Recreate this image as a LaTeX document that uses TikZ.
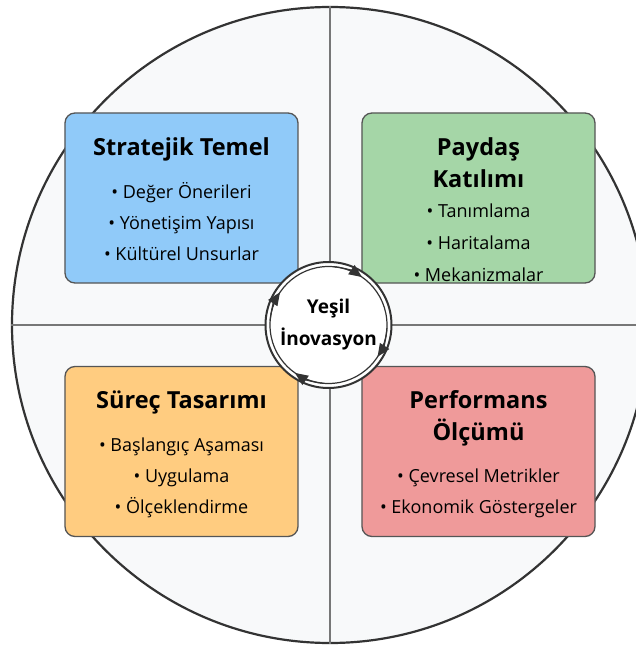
\documentclass[tikz,border=0pt]{standalone}
\usepackage{fontspec}
\setmainfont{Open Sans}
\usepackage{tikz}
\usetikzlibrary{positioning, arrows.meta, calc}
\definecolor{ringgray}{HTML}{333333}
\definecolor{panelbg}{HTML}{F8F9FA}
\definecolor{splitgray}{HTML}{777777}
\definecolor{boxline}{HTML}{555555}
\definecolor{stratblue}{HTML}{90CAF9}
\definecolor{paygreen}{HTML}{A5D6A7}
\definecolor{surecorange}{HTML}{FFCC80}
\definecolor{perfred}{HTML}{EF9A9A}

\tikzset{
  quadbox/.style={draw=boxline, line width=1.3pt, rounded corners=10pt,
    minimum width=233pt, minimum height=170pt, inner sep=0pt},
  boxtitle/.style={font=\fontsize{23.5}{28}\selectfont\bfseries, anchor=base, inner sep=0pt},
  boxlist/.style={font=\fontsize{18}{22}\selectfont, anchor=base, inner sep=0pt},
  ringarrow/.style={draw=ringgray, line width=1.2pt,
    -{Triangle[length=13pt, width=11pt, fill=ringgray]}}
}

\begin{document}
\begin{tikzpicture}[x=1pt, y=1pt]
  \useasboundingbox (-330,-323) rectangle (306,325);
  % outer disc and quadrants
  \node[circle, fill=panelbg, draw=ringgray, line width=2.2pt,
        minimum size=636pt, inner sep=0pt] (disc) at (0,0) {};
  \draw[splitgray, line width=1.3pt] (disc.north) -- (disc.south);
  \draw[splitgray, line width=1.3pt] (disc.west) -- (disc.east);

  % the four blocks
  \node[quadbox, fill=stratblue] (strat) at (-148.5,127) {};
  \node[quadbox, fill=paygreen] (payd) at (148.5,127) {};
  \node[quadbox, fill=surecorange] (surec) at (-148.5,-126.5) {};
  \node[quadbox, fill=perfred] (perf) at (148.5,-126.5) {};

  \node[boxtitle] (strat-t) at ([yshift=-43pt]strat.north) {Stratejik Temel};
  \foreach \txt/\dy [count=\i] in {Değer Önerileri/86, Yönetişim Yapısı/117, Kültürel Unsurlar/148}
    \node[boxlist] (strat-\i) at ([yshift=-\dy pt]strat.north) {• \txt};

  \node[boxtitle] (payd-t1) at ([yshift=-43pt]payd.north) {Paydaş};
  \node[boxtitle] (payd-t2) at ([yshift=-75pt]payd.north) {Katılımı};
  \begin{scope}
    \clip (payd.south west) rectangle (payd.north east);
    \foreach \txt/\dy [count=\i] in {Tanımlama/105, Haritalama/137, Mekanizmalar/169}
      \node[boxlist] (payd-\i) at ([yshift=-\dy pt]payd.north) {• \txt};
  \end{scope}

  \node[boxtitle] (surec-t) at ([yshift=-43pt]surec.north) {Süreç Tasarımı};
  \foreach \txt/\dy [count=\i] in {Başlangıç Aşaması/86, Uygulama/117, Ölçeklendirme/148}
    \node[boxlist] (surec-\i) at ([yshift=-\dy pt]surec.north) {• \txt};

  \node[boxtitle] (perf-t1) at ([yshift=-43pt]perf.north) {Performans};
  \node[boxtitle] (perf-t2) at ([yshift=-75pt]perf.north) {Ölçümü};
  \foreach \txt/\dy [count=\i] in {Çevresel Metrikler/117, Ekonomik Göstergeler/148}
    \node[boxlist] (perf-\i) at ([yshift=-\dy pt]perf.north) {• \txt};

  % centre ring
  \node[circle, fill=white, draw=ringgray, line width=2pt, minimum size=126pt,
        inner sep=0pt, font=\fontsize{19}{32}\selectfont\bfseries, align=center]
        (core) at (-1.5,0) {Yeşil\\İnovasyon};
  \draw[ringgray, line width=1.2pt] (core.center) circle[radius=58.5pt];
  \foreach \a in {55,-33,-125,146}
    \draw[ringarrow] ([shift={(\a+30:58.5pt)}]core.center)
      arc[start angle=\a+30, delta angle=-30, radius=58.5pt];
\end{tikzpicture}
\end{document}
